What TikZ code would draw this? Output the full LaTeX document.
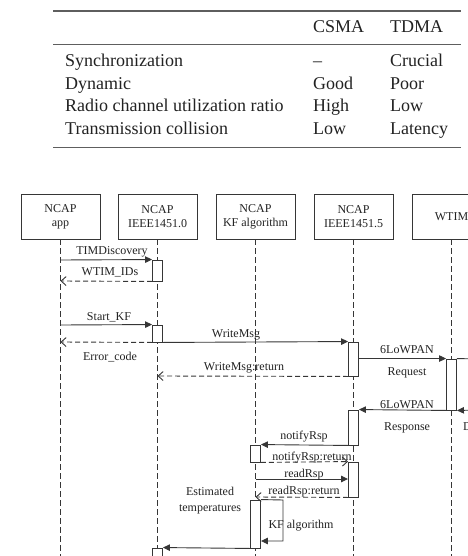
\documentclass[tikz,border=0pt]{standalone}
\usepackage{fontspec}
\setmainfont{Liberation Serif}
\usetikzlibrary{arrows.meta}
\definecolor{ln}{HTML}{363636}
\definecolor{tx}{HTML}{222222}
\definecolor{rl}{HTML}{5E5E5E}
\begin{document}
\begin{tikzpicture}[x=1pt,y=-1pt,
  tbl/.style={font=\fontsize{18}{22}\selectfont, text=tx, inner sep=0pt, anchor=base west},
  rulel/.style={draw=rl, line width=1.2pt},
  obj/.style={draw=ln, line width=0.9pt, minimum width=79pt, minimum height=45pt, inner sep=0pt, align=center, font=\fontsize{12}{14}\selectfont, text=tx},
  life/.style={draw=ln, line width=0.9pt, dash pattern=on 6pt off 3pt},
  act/.style={draw=ln, fill=white, line width=0.9pt, minimum width=10pt, inner sep=0pt},
  msg/.style={draw=ln, line width=0.9pt, -{Triangle[length=7pt,width=6.5pt]}},
  ret/.style={draw=ln, line width=0.9pt, dash pattern=on 5pt off 3pt, -{Straight Barb[length=5pt,width=9pt]}},
  lbl/.style={font=\fontsize{12}{14}\selectfont, text=tx, inner sep=0pt, anchor=base}
]
\useasboundingbox (0,0) rectangle (467,556);
% ---------- table ----------
\draw[rulel] (53,11) -- (461,11);
\draw[rulel] (53,44.3) -- (461,44.3);
\draw[rulel] (53,147.3) -- (461,147.3);
\node[tbl] (h1) at (313,33) {CSMA};
\node[tbl] (h2) at (390,33) {TDMA};
\node[tbl] (r1) at (65,67) {Synchronization};
\node[tbl] (r1a) at (313,67) {–};
\node[tbl] (r1b) at (390,67) {Crucial};
\node[tbl] (r2) at (65,89.5) {Dynamic};
\node[tbl] (r2a) at (313,89.5) {Good};
\node[tbl] (r2b) at (390,89.5) {Poor};
\node[tbl] (r3) at (65,112) {Radio channel utilization ratio};
\node[tbl] (r3a) at (313,112) {High};
\node[tbl] (r3b) at (390,112) {Low};
\node[tbl] (r4) at (65,134.5) {Transmission collision};
\node[tbl] (r4a) at (313,134.5) {Low};
\node[tbl] (r4b) at (390,134.5) {Latency};
% ---------- objects ----------
\node[obj] (b1) at (60.5,216.5) {NCAP\\app};
\node[obj] (b2) at (157.5,216.5) {NCAP\\IEEE1451.0};
\node[obj] (b3) at (255.5,216.5) {NCAP\\KF algorithm};
\node[obj] (b4) at (353.5,216.5) {NCAP\\IEEE1451.5};
\node[obj] (b5) at (451.5,216.5) {WTIM};
\coordinate (e1) at (60.5,560);
\coordinate (e2) at (157.5,560);
\coordinate (e3) at (255.5,560);
\coordinate (e4) at (353.5,560);
\coordinate (e5) at (451.5,560);
\draw[life] (b1.south) -- (e1);
\draw[life] (b2.south) -- (e2);
\draw[life] (b3.south) -- (e3);
\draw[life] (b4.south) -- (e4);
\draw[life] (b5.south) -- (e5);
% ---------- activation bars ----------
\node[act, minimum height=21pt] (a1) at (157.5,270.5) {};
\node[act, minimum height=17pt] (a2) at (157.5,333.5) {};
\node[act, minimum height=34pt] (a3) at (353.5,359) {};
\node[act, minimum height=51pt] (a4) at (451.5,384.5) {};
\node[act, minimum height=35pt] (a5) at (353.5,427.5) {};
\node[act, minimum height=17pt] (a6) at (255.5,453.5) {};
\node[act, minimum height=35pt] (a7) at (353.5,479.5) {};
\node[act, minimum height=48pt] (a8) at (255.5,524) {};
\node[act, minimum height=20pt] (a9) at (157.5,558) {};
% ---------- free ends ----------
\coordinate (p1) at (60.5,260);
\coordinate (p2) at (60.5,281);
\coordinate (p3) at (60.5,325);
\coordinate (p4) at (60.5,342);
\coordinate (p6) at (157.5,376);
\coordinate (o1) at (480,359);
\coordinate (o2) at (480,410);
\coordinate (p12) at (255.5,479);
\coordinate (p13) at (255.5,497);
\coordinate (k1) at (283,500);
\coordinate (k2) at (283,541);
% ---------- messages ----------
\draw[msg] (p1) -- (a1.north west);
\draw[ret] (a1.south west) -- (p2);
\draw[msg] (p3) -- (a2.north west);
\draw[ret] (a2.south west) -- (p4);
\draw[msg] (a2.south east) -- (a3.north west);
\draw[ret] (a3.south west) -- (p6);
\draw[msg] (a4.north west -| a3.east) -- (a4.north west);
\draw[draw=ln, line width=0.9pt] (a4.north east) -- (o1);
\draw[msg] (o2) -- (a4.south east);
\draw[msg] (a4.south west) -- (a5.north east);
\draw[msg] (a5.south west) -- (a6.north east);
\draw[ret] (a6.south east) -- (a7.north west);
\draw[msg] (p12) -- (p12 -| a7.west);
\draw[ret] (a7.south west) -- (p13);
\draw[msg] (a8.north east) -- (k1) -- (k2) -- (k2 -| a8.east);
\draw[msg] (a8.south west) -- (a9.north east);
% ---------- labels ----------
\node[lbl] (t1) at (112,254) {TIMDiscovery};
\node[lbl] (t2) at (110,275) {WTIM\_IDs};
\node[lbl] (t3) at (109,320) {Start\_KF};
\node[lbl] (t4) at (110,360) {Error\_code};
\node[lbl] (t5) at (236,337) {WriteMsg};
\node[lbl] (t6) at (244,370) {WriteMsg:return};
\node[lbl] (t7) at (407,353) {6LoWPAN};
\node[lbl] (t8) at (407,375) {Request};
\node[lbl] (t9) at (407,408) {6LoWPAN};
\node[lbl] (t10) at (407,430) {Response};
\node[lbl, anchor=base west] (t11) at (463,430) {D};
\node[lbl] (t12) at (304,439) {notifyRsp};
\node[lbl] (t13) at (312,460) {notifyRsp:return};
\node[lbl] (t14) at (304,477) {readRsp};
\node[lbl] (t15) at (304,494) {readRsp:return};
\node[lbl] (t16) at (301,528) {KF algorithm};
\node[lbl, align=center, font=\fontsize{12}{15.5}\selectfont] (t17) at (210,511) {Estimated\\temperatures};
\end{tikzpicture}
\end{document}
